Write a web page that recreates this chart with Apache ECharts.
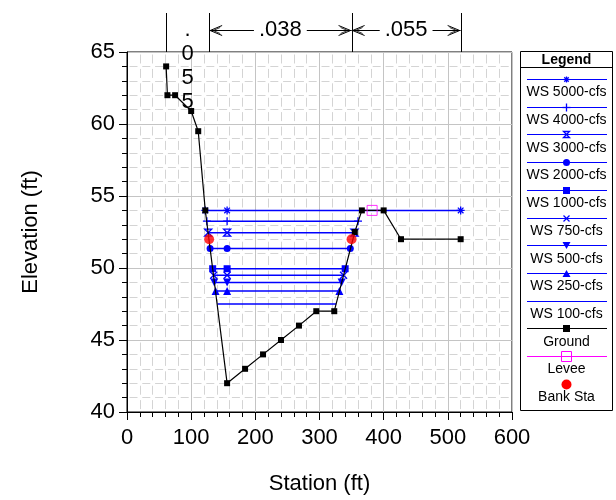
<!DOCTYPE html>
<html><head><meta charset="utf-8">
<script src="https://cdn.jsdelivr.net/npm/echarts@6/dist/echarts.min.js"></script>
<style>html,body{margin:0;padding:0;background:#fff}#c{width:616px;height:500px}</style>
</head><body><div id="c"></div>
<script>
// ---------------- data ----------------
const groundSta  = [61, 63, 75, 100, 111, 122, 156, 184, 212, 240, 268, 295, 323, 355, 366, 400, 427, 520];
const groundElev = [64, 62, 62, 60.9, 59.5, 54, 42, 43, 44, 45, 46, 47, 47, 52.5, 54, 54, 52, 52];
const wsNames = ['WS 5000-cfs','WS 4000-cfs','WS 3000-cfs','WS 2000-cfs','WS 1000-cfs','WS 750-cfs','WS 500-cfs','WS 250-cfs','WS 100-cfs'];
const wsElev  = [54.0, 53.25, 52.45, 51.35, 49.95, 49.5, 49.0, 48.4, 47.5];
const wsLeft  = [122, 124.5, 126.5, 129.5, 133.5, 135, 136, 138, 141];
const wsMid   = [156, 156, 156, 156, 156, 156, 156, 156, 156];
const wsRight = [520, 360, 354.5, 348, 340, 337.5, 334.5, 331, 326];
const leveeSta = [382], leveeElev = [54];
const bankSta = [128, 350], bankElev = [52, 52];
const nBreaks = [61, 128, 350, 520];
const nValues = ['.055', '.038', '.055'];
const otherNames = ['Ground', 'Levee', 'Bank Sta'];
const xAxisName = 'Station (ft)', yAxisName = 'Elevation (ft)', legendTitle = 'Legend';

// ---------------- styles ----------------
const FONT = '"Liberation Sans", Arial, Helvetica, sans-serif';
const BLUE = '#0000ff';
const wsMarks = [
  {symbol:'path://M5,0V10M0,5H10M1.5,1.5L8.5,8.5M8.5,1.5L1.5,8.5', size:8, stroke:true, key:'star'},
  {symbol:'path://M5,0V10M0,5H10', size:8, stroke:true, key:'plus'},
  {symbol:'path://M0,0H10L0,10H10Z', size:7, stroke:true, key:'hour'},
  {symbol:'circle', size:7, key:'circle'},
  {symbol:'rect', size:7, key:'rect'},
  {symbol:'path://M0,0L10,10M10,0L0,10', size:7, stroke:true, key:'x'},
  {symbol:'triangle', size:8, rotate:180, key:'tridown'},
  {symbol:'triangle', size:8, key:'triup'},
  {symbol:'none', key:'none'}
];

const chart = echarts.init(document.getElementById('c'), null, {renderer:'canvas'});

const series = [];
wsNames.forEach((n, i) => {
  const m = wsMarks[i];
  series.push({
    type:'line', name:n, z:2,
    data:[[wsLeft[i], wsElev[i]], [wsMid[i], wsElev[i]], [wsRight[i], wsElev[i]]],
    symbol:m.symbol, symbolSize:m.size || 0, symbolRotate:m.rotate || 0,
    showSymbol: m.symbol !== 'none',
    lineStyle:{color:BLUE, width:1.5},
    itemStyle: m.stroke ? {color:'transparent', borderColor:BLUE, borderWidth:1.3} : {color:BLUE},
    emphasis:{disabled:true}
  });
});
series.push({
  type:'line', name:'Ground', z:3,
  data: groundSta.map((s, i) => [s, groundElev[i]]),
  symbol:'rect', symbolSize:6, showSymbol:true,
  lineStyle:{color:'#000', width:1.2}, itemStyle:{color:'#000'}, emphasis:{disabled:true}
});
series.push({
  type:'scatter', name:'Levee', z:4,
  data: leveeSta.map((s, i) => [s, leveeElev[i]]),
  symbol:'rect', symbolSize:10,
  itemStyle:{color:'transparent', borderColor:'#ff00ff', borderWidth:1}
});
series.push({
  type:'scatter', name:'Bank Sta', z:5,
  data: bankSta.map((s, i) => [s, bankElev[i]]),
  symbol:'circle', symbolSize:10, itemStyle:{color:'#ff0000'}
});

const axisCommon = {
  type:'value',
  axisLine:{show:true, onZero:false, lineStyle:{color:'#000', width:1}},
  axisTick:{show:true, length:8, lineStyle:{color:'#000'}},
  minorTick:{show:true, splitNumber:5, length:5, lineStyle:{color:'#000'}},
  axisLabel:{fontSize:22, color:'#000', fontFamily:FONT},
  splitLine:{show:true, lineStyle:{color:'#c4c4c4', width:1}},
  nameLocation:'middle',
  nameTextStyle:{fontSize:22, color:'#000', fontFamily:FONT}
};

chart.setOption({
  animation:false,
  backgroundColor:'#fff',
  grid:{left:127, right:104, top:52, bottom:88, show:true, borderColor:'#000', borderWidth:1, backgroundColor:'transparent'},
  xAxis: Object.assign({}, axisCommon, {
    min:0, max:600, interval:100, name:xAxisName, nameGap:61,
    axisLabel:Object.assign({}, axisCommon.axisLabel, {margin:15}),
    minorSplitLine:{show:true, lineStyle:{color:'#d4d4d4', width:1, type:[9,5.4], dashOffset:-2.5}}
  }),
  yAxis: Object.assign({}, axisCommon, {
    min:40, max:65, interval:5, name:yAxisName, nameGap:85,
    axisLabel:Object.assign({}, axisCommon.axisLabel, {margin:12}),
    minorSplitLine:{show:true, lineStyle:{color:'#d4d4d4', width:1, type:[8,4.8], dashOffset:-2.5}}
  }),
  series: series
});

// ---------------- graphics: n-values and legend ----------------
const g = [];
const px = s => chart.convertToPixel({xAxisIndex:0}, s);
const plotTop = chart.convertToPixel({yAxisIndex:0}, 65);
const ctx = document.createElement('canvas').getContext('2d');
ctx.font = '22px ' + FONT;

nBreaks.forEach(s => {
  const x = Math.round(px(s)) + 0.5;
  g.push({type:'line', z:50, shape:{x1:x, y1:13, x2:x, y2:plotTop}, style:{stroke:'#000', lineWidth:1}});
});
function chevron(x, y, dir) {
  const L = 12, H = 5;
  g.push({type:'polyline', z:50, shape:{points:[[x + dir*L, y - H], [x, y], [x + dir*L, y + H]]}, style:{stroke:'#000', lineWidth:1, fill:null}});
  g.push({type:'polyline', z:50, shape:{points:[[x + dir*(L-2), y - H + 2], [x + dir*3, y], [x + dir*(L-2), y + H - 2]]}, style:{stroke:'#000', lineWidth:0.8, fill:null}});
}
nValues.forEach((v, i) => {
  const x1 = px(nBreaks[i]), x2 = px(nBreaks[i+1]), mid = (x1 + x2) / 2;
  const w = ctx.measureText(v).width;
  if (w + 40 > x2 - x1) {
    v.split('').forEach((ch, k) => {
      g.push({type:'text', z:50, style:{text:ch, x:mid, y:30 + k*24, fill:'#000', font:'22px ' + FONT, textAlign:'center', textVerticalAlign:'middle'}});
    });
  } else {
    const y = 30.5;
    g.push({type:'text', z:50, style:{text:v, x:mid, y:29.5, fill:'#000', font:'22px ' + FONT, textAlign:'center', textVerticalAlign:'middle'}});
    g.push({type:'line', z:50, shape:{x1:x1, y1:y, x2:mid - w/2 - 5, y2:y}, style:{stroke:'#000', lineWidth:1}});
    g.push({type:'line', z:50, shape:{x1:mid + w/2 + 5, y1:y, x2:x2, y2:y}, style:{stroke:'#000', lineWidth:1}});
    chevron(x1 + 1, y, 1);
    chevron(x2 - 1, y, -1);
  }
});

// legend box
const LX = 520.5, LR = 612.5, LT = 51.5, LB = 410.5, LC = (LX + LR) / 2;
g.push({type:'rect', z:40, shape:{x:LX, y:LT, width:LR - LX, height:LB - LT}, style:{fill:'#fff', stroke:'#000', lineWidth:1}});
g.push({type:'text', z:41, style:{text:legendTitle, x:LC, y:60, fill:'#000', font:'bold 14px ' + FONT, textAlign:'center', textVerticalAlign:'middle'}});
g.push({type:'line', z:41, shape:{x1:LX, y1:67.5, x2:LR, y2:67.5}, style:{stroke:'#000', lineWidth:1}});

function legendMarker(key, cx, cy, color) {
  const st = {stroke:color, lineWidth:1.3, fill:null};
  const r = 3;
  const L = (a, b, c, d) => g.push({type:'line', z:43, shape:{x1:cx+a, y1:cy+b, x2:cx+c, y2:cy+d}, style:st});
  switch (key) {
    case 'star': L(0,-r,0,r); L(-r,0,r,0); L(-2.2,-2.2,2.2,2.2); L(2.2,-2.2,-2.2,2.2); break;
    case 'plus': L(0,-r-1,0,r+1); L(-r-1,0,r+1,0); break;
    case 'hour': g.push({type:'polygon', z:43, shape:{points:[[cx-r,cy-r],[cx+r,cy-r],[cx-r,cy+r],[cx+r,cy+r]]}, style:st}); break;
    case 'circle': g.push({type:'circle', z:43, shape:{cx:cx, cy:cy, r:3.5}, style:{fill:color}}); break;
    case 'rect': g.push({type:'rect', z:43, shape:{x:cx-3.5, y:cy-3.5, width:7, height:7}, style:{fill:color}}); break;
    case 'x': L(-r,-r,r,r); L(r,-r,-r,r); break;
    case 'tridown': g.push({type:'polygon', z:43, shape:{points:[[cx-4,cy-3.5],[cx+4,cy-3.5],[cx,cy+3.5]]}, style:{fill:color}}); break;
    case 'triup': g.push({type:'polygon', z:43, shape:{points:[[cx-4,cy+3.5],[cx+4,cy+3.5],[cx,cy-3.5]]}, style:{fill:color}}); break;
    case 'ground': g.push({type:'rect', z:43, shape:{x:cx-3.5, y:cy-3.5, width:7, height:7}, style:{fill:color}}); break;
    case 'levee': g.push({type:'rect', z:43, shape:{x:cx-5, y:cy-5, width:10, height:10}, style:{fill:null, stroke:color, lineWidth:1}}); break;
    case 'bank': g.push({type:'circle', z:43, shape:{cx:cx, cy:cy, r:5}, style:{fill:color}}); break;
  }
}
const legendNames = wsNames.concat(otherNames);
const legendKeys = wsMarks.map(m => m.key).concat(['ground', 'levee', 'bank']);
const legendColors = wsNames.map(() => BLUE).concat(['#000', '#ff00ff', '#ff0000']);
legendNames.forEach((n, i) => {
  const y = 79 + i * 27.7;
  const yy = Math.round(y) + 0.5;
  if (legendKeys[i] !== 'bank') {
    g.push({type:'line', z:42, shape:{x1:527, y1:yy, x2:607, y2:yy}, style:{stroke:legendColors[i], lineWidth:1.2}});
  }
  legendMarker(legendKeys[i], LC, yy, legendColors[i]);
  g.push({type:'text', z:41, style:{text:n, x:LC, y:y + 13.5, fill:'#000', font:'14px ' + FONT, textAlign:'center', textVerticalAlign:'middle'}});
});

chart.setOption({graphic: g});
</script>
</body></html>
